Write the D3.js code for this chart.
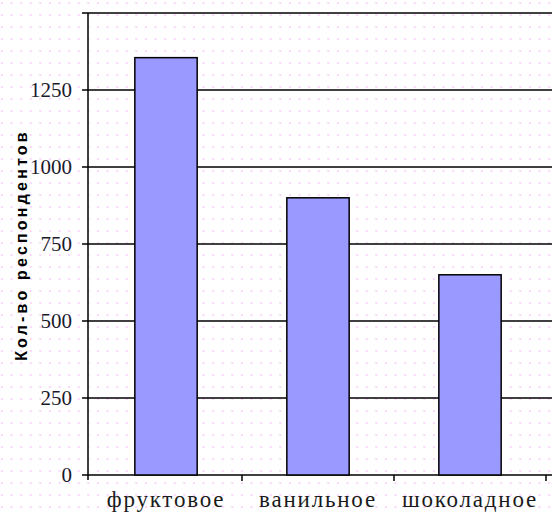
<!DOCTYPE html>
<html>
<head>
<meta charset="utf-8">
<script src="https://cdn.jsdelivr.net/npm/d3@7"></script>
</head>
<body style="margin:0">
<svg id="chart" width="552" height="516"></svg>
<script>
// flavours and number of respondents
const categories = ['фруктовое', 'ванильное', 'шоколадное'];
const respondents = [1355, 900, 650];
const y_ticks = [0, 250, 500, 750, 1000, 1250, 1500];
const y_labels = ['0', '250', '500', '750', '1000', '1250', ''];

const svg = d3.select('#chart');
const margin = {top: 13, right: 6, bottom: 41, left: 88};
const width = +svg.attr('width') - margin.left - margin.right;
const height = +svg.attr('height') - margin.top - margin.bottom;

// pink dotted background
const defs = svg.append('defs');
const pat = defs.append('pattern')
    .attr('id', 'dots')
    .attr('patternUnits', 'userSpaceOnUse')
    .attr('width', 9.6).attr('height', 12);
pat.append('rect').attr('x', 1).attr('y', 2).attr('width', 2).attr('height', 2).attr('fill', '#fbd6fb');
svg.append('rect').attr('width', 552).attr('height', 516).attr('fill', 'url(#dots)');

const x = d3.scaleBand().domain(categories).range([margin.left + 2, margin.left + 458]).paddingInner(0.59).paddingOuter(0.295);
const xTicks = d3.scaleBand().domain(categories).range([margin.left + 2, margin.left + 458]);
const y = d3.scaleLinear().domain([0, 1500]).range([margin.top + height, margin.top]);

// gridlines + ticks
svg.append('g')
    .selectAll('line')
    .data(y_ticks)
    .join('line')
    .attr('x1', margin.left - 6).attr('x2', margin.left + width + 10)
    .attr('y1', d => y(d)).attr('y2', d => y(d))
    .attr('stroke', '#000').attr('stroke-width', 1.5);

// y axis line
svg.append('line')
    .attr('x1', margin.left).attr('x2', margin.left)
    .attr('y1', margin.top).attr('y2', margin.top + height + 5)
    .attr('stroke', '#000').attr('stroke-width', 1.5);

svg.selectAll('text.ylabel')
    .data(y_ticks)
    .join('text')
    .attr('class', 'ylabel')
    .attr('x', margin.left - 16)
    .attr('y', d => y(d) + 7)
    .attr('text-anchor', 'end')
    .attr('font-family', 'Liberation Serif')
    .attr('font-size', 21)
    .attr('fill', '#1a1a2a')
    .text((d, i) => y_labels[i]);

// bars
svg.selectAll('rect.bar')
    .data(respondents)
    .join('rect')
    .attr('class', 'bar')
    .attr('x', (d, i) => x(categories[i]))
    .attr('y', d => y(d))
    .attr('width', x.bandwidth())
    .attr('height', d => y(0) - y(d))
    .attr('fill', '#9999ff')
    .attr('stroke', '#000')
    .attr('stroke-width', 1.5);

// x axis ticks
svg.selectAll('line.xtick')
    .data(categories)
    .join('line')
    .attr('class', 'xtick')
    .attr('x1', d => xTicks(d) + xTicks.bandwidth()).attr('x2', d => xTicks(d) + xTicks.bandwidth())
    .attr('y1', y(0)).attr('y2', y(0) + 6)
    .attr('stroke', '#000').attr('stroke-width', 1.5);

svg.selectAll('text.xlabel')
    .data(categories)
    .join('text')
    .attr('class', 'xlabel')
    .attr('x', d => x(d) + x.bandwidth() / 2)
    .attr('y', y(0) + 32)
    .attr('text-anchor', 'middle')
    .attr('font-family', 'Liberation Serif')
    .attr('font-size', 23)
    .attr('letter-spacing', 1.8)
    .attr('fill', '#1a1a1a')
    .text(d => d);

svg.append('text')
    .attr('transform', 'translate(27,245) rotate(-90)')
    .attr('text-anchor', 'middle')
    .attr('font-family', 'Liberation Sans')
    .attr('font-weight', 'bold')
    .attr('font-size', 16)
    .attr('letter-spacing', 3.2)
    .attr('fill', '#000')
    .text('Кол-во респондентов');
</script>
</body>
</html>
